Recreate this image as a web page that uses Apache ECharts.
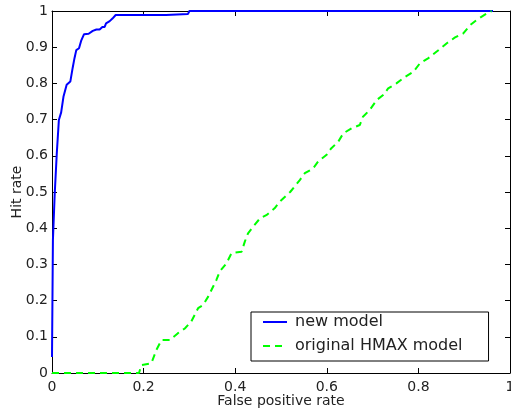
<!DOCTYPE html>
<html>
<head>
<meta charset="utf-8">
<script src="https://cdn.jsdelivr.net/npm/echarts@6/dist/echarts.min.js"></script>
<style>
  html, body { margin: 0; padding: 0; background: #fff; }
  #rocChart { width: 511px; height: 414px; }
</style>
</head>
<body>
<div id="rocChart"></div>
<script>
  // new model ROC curve (false positive rate / hit rate)
  var newFpr = [0, 0.002, 0.006, 0.0105, 0.015, 0.020, 0.025, 0.029, 0.032, 0.040, 0.045, 0.049, 0.053, 0.059, 0.064, 0.070, 0.080, 0.089, 0.097, 0.104, 0.110, 0.115, 0.118, 0.126, 0.132, 0.139, 0.249, 0.253, 0.297, 0.300, 0.963];
  var newHit = [0.044, 0.367, 0.497, 0.608, 0.699, 0.720, 0.763, 0.768, 0.796, 0.805, 0.842, 0.869, 0.892, 0.897, 0.919, 0.936, 0.937, 0.945, 0.949, 0.949, 0.956, 0.956, 0.966, 0.972, 0.979, 0.989, 0.989, 0.992, 0.992, 1, 1];

  // original HMAX model ROC curve
  var hmaxFpr = [0, 0.190, 0.195, 0.217, 0.228, 0.239, 0.257, 0.275, 0.290, 0.304, 0.319, 0.330, 0.341, 0.359, 0.366, 0.381, 0.392, 0.414, 0.421, 0.428, 0.439, 0.454, 0.468, 0.486, 0.497, 0.520, 0.541, 0.552, 0.570, 0.581, 0.599, 0.610, 0.625, 0.636, 0.654, 0.672, 0.679, 0.694, 0.709, 0.723, 0.734, 0.752, 0.771, 0.789, 0.803, 0.821, 0.840, 0.862, 0.880, 0.898, 0.913, 0.927, 0.949, 0.960];
  var hmaxHit = [0, 0, 0.022, 0.027, 0.064, 0.091, 0.091, 0.110, 0.123, 0.142, 0.179, 0.188, 0.211, 0.257, 0.280, 0.303, 0.331, 0.335, 0.363, 0.386, 0.404, 0.427, 0.436, 0.455, 0.473, 0.500, 0.533, 0.552, 0.565, 0.584, 0.602, 0.621, 0.639, 0.662, 0.676, 0.685, 0.708, 0.727, 0.754, 0.768, 0.786, 0.800, 0.818, 0.832, 0.855, 0.869, 0.888, 0.911, 0.927, 0.938, 0.961, 0.975, 0.993, 1];

  var seriesNames = ['new model', 'original HMAX model'];

  function zip(xs, ys) {
    var out = [];
    for (var i = 0; i < xs.length; i++) {
      out.push([xs[i], ys[i]]);
    }
    return out;
  }

  var font = "'DejaVu Sans', sans-serif";
  var textColor = '#222';

  function boxAxis(pos, step, showLabel) {
    return {
      type: 'value',
      position: pos,
      min: 0,
      max: 1,
      interval: step,
      axisLine: { show: true, onZero: false, lineStyle: { color: '#000', width: 1 } },
      axisTick: { show: true, inside: true, length: 5, lineStyle: { color: '#000' } },
      axisLabel: { show: showLabel, color: textColor, fontSize: 14, fontFamily: font, margin: 7 },
      splitLine: { show: false }
    };
  }

  var xBottom = boxAxis('bottom', 0.2, true);
  xBottom.name = 'False positive rate';
  xBottom.nameLocation = 'middle';
  xBottom.nameGap = 21;
  xBottom.nameMoveOverlap = false;
  xBottom.nameTextStyle = { color: textColor, fontSize: 14, fontFamily: font };

  var yLeft = boxAxis('left', 0.1, true);
  yLeft.axisLabel.margin = 4;
  yLeft.name = 'Hit rate';
  yLeft.nameLocation = 'middle';
  yLeft.nameGap = 28;
  yLeft.nameMoveOverlap = false;
  yLeft.nameTextStyle = { color: textColor, fontSize: 14, fontFamily: font };

  var option = {
    backgroundColor: '#fff',
    animation: false,
    grid: { left: 52, top: 11, width: 458, height: 362, outerBoundsMode: 'none', containLabel: false },
    xAxis: [xBottom, boxAxis('top', 0.2, false)],
    yAxis: [yLeft, boxAxis('right', 0.1, false)],
    legend: {
      orient: 'vertical',
      left: 251,
      top: 312,
      padding: [2, 26, 7, 11],
      itemWidth: 24,
      itemHeight: 14,
      itemGap: 8,
      backgroundColor: '#fff',
      borderColor: '#000',
      borderWidth: 1,
      borderRadius: 0,
      itemStyle: { opacity: 0 },
      textStyle: { color: textColor, fontSize: 16, fontFamily: font, padding: [0, 0, 0, 3] },
      data: seriesNames
    },
    series: [{
      name: seriesNames[0],
      type: 'line',
      xAxisIndex: 0,
      yAxisIndex: 0,
      symbol: 'none',
      lineStyle: { color: '#0000ff', width: 2 },
      itemStyle: { color: '#0000ff' },
      data: zip(newFpr, newHit)
    }, {
      name: seriesNames[1],
      type: 'line',
      xAxisIndex: 0,
      yAxisIndex: 0,
      symbol: 'none',
      lineStyle: { color: '#00ff00', width: 2, type: [7, 5] },
      itemStyle: { color: '#00ff00' },
      data: zip(hmaxFpr, hmaxHit)
    }]
  };

  var chart = echarts.init(document.getElementById('rocChart'));
  chart.setOption(option);
</script>
</body>
</html>
